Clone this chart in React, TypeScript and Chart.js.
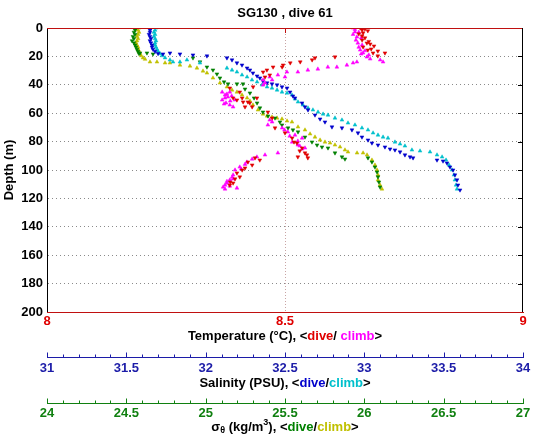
import React, { useEffect, useRef } from 'react';
import { Chart, registerables } from 'chart.js';

Chart.register(...registerables);

// ---------------- data ----------------
const CHART_TITLE = 'SG130 , dive 61';
const DEPTH_MIN = 0;
const DEPTH_MAX = 200;
const DEPTH_STEP = 20;
const TEMP_MIN = 8;
const TEMP_MAX = 9;
const TEMP_STEP = 0.5;
const SAL_MIN = 31;
const SAL_MAX = 34;
const SIG_MIN = 24;
const SIG_MAX = 27;
const MINOR_STEP = 0.1;

// [depth (m), temperature (°C)]
const tempDive: [number, number][] = [
  [0, 8.658], [0.7, 8.668], [1.4, 8.662], [2, 8.674], [3.5, 8.664], [4.2, 8.655], [5.6, 8.662], [7, 8.668],
  [8.5, 8.662], [9.5, 8.676], [10.6, 8.672], [11.3, 8.679], [12.7, 8.687], [13.4, 8.664], [14.8, 8.681],
  [15.5, 8.674], [16.2, 8.695], [17.6, 8.685], [17.6, 8.71], [19.7, 8.695], [20.4, 8.605], [21.1, 8.563],
  [22.5, 8.557], [23.9, 8.532], [24.6, 8.511], [26.1, 8.496], [27.5, 8.494], [27.5, 8.475], [29.6, 8.462],
  [31.0, 8.454], [33.1, 8.468], [34.5, 8.458], [41.5, 8.433], [42.3, 8.384], [45.1, 8.405], [49.3, 8.441],
  [49.3, 8.391], [50.7, 8.399], [49.3, 8.41], [52.1, 8.412], [52.1, 8.422], [52.8, 8.426], [55.6, 8.416],
  [55.6, 8.431], [59.2, 8.464], [63.4, 8.473], [70.4, 8.479], [73.9, 8.5], [77.5, 8.515], [80.3, 8.519],
  [81.0, 8.525], [84.5, 8.536], [86.6, 8.531], [88.0, 8.542], [89.4, 8.546], [91.5, 8.548], [90.8, 8.527],
  [93.0, 8.447], [91.5, 8.437], [94.4, 8.422], [96.5, 8.431], [98.6, 8.416], [100.0, 8.41], [102.1, 8.399],
  [104.9, 8.405], [106.3, 8.395], [108.5, 8.385], [109.2, 8.391], [110.6, 8.384],
];
const tempClimb: [number, number][] = [
  [0, 8.643], [1, 8.647], [2.8, 8.647], [3, 8.655], [4.5, 8.643], [6.3, 8.651], [7, 8.66], [8.5, 8.649],
  [10.6, 8.653], [12, 8.662], [13.5, 8.655], [15.5, 8.658], [16, 8.668], [17.6, 8.664], [18.3, 8.66],
  [19, 8.676], [20.4, 8.672], [21.8, 8.679], [22.5, 8.7], [23.9, 8.706], [23.9, 8.651], [24.6, 8.643],
  [26.1, 8.63], [27.5, 8.609], [27.5, 8.59], [28.9, 8.569], [29.6, 8.548], [31.0, 8.527], [31.0, 8.504],
  [34.5, 8.5], [33.1, 8.485], [34.5, 8.468], [36.6, 8.473], [36.6, 8.454], [38.7, 8.458], [40.1, 8.454],
  [45.1, 8.384], [45.1, 8.368], [46.5, 8.378], [47.2, 8.374], [47.9, 8.388], [48.6, 8.38], [49.3, 8.374],
  [50.7, 8.368], [51.4, 8.385], [52.8, 8.376], [53.5, 8.372], [54.2, 8.384], [55.6, 8.391], [50.7, 8.395],
  [64.8, 8.468], [66.2, 8.473], [68.3, 8.464], [70.4, 8.494], [71.8, 8.499], [73.2, 8.506], [75.4, 8.521],
  [76.1, 8.51], [77.5, 8.536], [79.6, 8.527], [80.3, 8.515], [82.4, 8.527], [83.1, 8.531], [84.5, 8.542],
  [85.2, 8.536], [88.0, 8.485], [89.4, 8.458], [90.8, 8.441], [92.3, 8.431], [94.4, 8.42], [96, 8.416],
  [97.9, 8.405], [99.3, 8.408], [100.0, 8.395], [103.5, 8.391], [105, 8.389], [106.3, 8.391], [107.0, 8.384],
  [108, 8.378], [109.2, 8.378], [110.6, 8.374], [111.3, 8.384], [112.0, 8.37], [113.4, 8.374], [112.7, 8.399],
];

// [depth (m), salinity (PSU)]
const salDive: [number, number][] = [
  [0, 31.655], [1.5, 31.649], [3, 31.649], [4.5, 31.643], [6, 31.649], [7.5, 31.655], [9, 31.649],
  [10.5, 31.655], [12, 31.662], [13.5, 31.662], [15, 31.668], [16.5, 31.681], [18, 31.7],
  [18.3, 31.731], [17.6, 31.775], [18.3, 31.838], [19.0, 31.92], [19.7, 32.008], [21.1, 32.134],
  [22.5, 32.166], [24.6, 32.197], [26.1, 32.229], [28.2, 32.261], [29.6, 32.279], [31.7, 32.298],
  [33.8, 32.324], [35.2, 32.342], [37.3, 32.361], [38.7, 32.387], [39.4, 32.418], [40.1, 32.45],
  [41.5, 32.481], [42.3, 32.513], [45.1, 32.532], [47.9, 32.55], [49.3, 32.563], [52.8, 32.607],
  [55.6, 32.626], [57.7, 32.645], [61.3, 32.689], [64.1, 32.721], [66.2, 32.752], [69.7, 32.796],
  [70.4, 32.859], [71.8, 32.922], [73.9, 32.96], [76.8, 32.985], [78.9, 33.023], [81.0, 33.048],
  [82.4, 33.086], [83.8, 33.13], [85.2, 33.162], [85.9, 33.193], [87.3, 33.225], [89.4, 33.256],
  [90.8, 33.288], [91.5, 33.307], [93.0, 33.458], [93.7, 33.496], [95.1, 33.521], [97.9, 33.54],
  [100.0, 33.559], [103.5, 33.571], [107.0, 33.584], [110.6, 33.59], [114.1, 33.603],
];
const salClimb: [number, number][] = [
  [0, 31.687], [1.5, 31.681], [3, 31.674], [4.5, 31.681], [6, 31.674], [7.5, 31.681], [9, 31.687],
  [10.5, 31.681], [12, 31.681], [13.5, 31.687], [15, 31.693], [16.5, 31.7], [18, 31.712], [19.5, 31.725],
  [21, 31.744], [22.5, 31.775], [23.9, 31.794], [23.9, 31.838], [22.5, 31.882],
  [24.6, 31.964], [28.2, 32.134], [29.6, 32.166], [31.0, 32.197], [33.1, 32.229], [34.5, 32.261],
  [36.6, 32.292], [38.0, 32.324], [40.1, 32.355], [41.5, 32.387], [42.3, 32.418], [43.7, 32.45],
  [45.1, 32.481], [45.8, 32.513], [47.2, 32.544], [50.0, 32.563], [52.1, 32.582], [54.2, 32.613],
  [56.3, 32.645], [57.7, 32.676], [59.2, 32.708], [60.6, 32.74], [61.3, 32.771], [63.4, 32.815],
  [64.8, 32.859], [66.9, 32.897], [68.3, 32.941], [70.4, 32.985], [71.8, 33.023], [73.9, 33.055],
  [75.4, 33.086], [76.8, 33.118], [77.5, 33.149], [80.3, 33.193], [81.7, 33.225], [83.1, 33.256],
  [85.9, 33.3], [86.6, 33.351], [87.3, 33.414], [89.4, 33.458], [90.8, 33.49], [93.0, 33.515],
  [96.5, 33.534], [100.0, 33.553], [103.5, 33.565], [107.0, 33.571], [110.6, 33.578], [113.4, 33.584],
];

// [depth (m), sigma-theta (kg/m3)]
const sigDive: [number, number][] = [
  [0, 24.561], [1.5, 24.555], [3, 24.548], [4.5, 24.555], [6, 24.542], [7.5, 24.548], [9, 24.536],
  [10.5, 24.548], [12, 24.555], [13.5, 24.561], [15, 24.567], [16.5, 24.574], [18, 24.58],
  [17.6, 24.586], [17.6, 24.63], [18.3, 24.668], [21.1, 24.92], [23.9, 24.964], [27.5, 25.008],
  [29.6, 25.046], [32.4, 25.071], [35.2, 25.09], [38.0, 25.116], [39.4, 25.141], [39.4, 25.197],
  [39.4, 25.235], [43.0, 25.248], [45.8, 25.279], [49.3, 25.305], [52.8, 25.324], [56.3, 25.342],
  [59.2, 25.361], [62.0, 25.393], [63.4, 25.437], [66.2, 25.468], [68.3, 25.481], [70.4, 25.519],
  [71.8, 25.55], [73.2, 25.582], [76.8, 25.626], [80.3, 25.67], [82.4, 25.702], [83.8, 25.733],
  [84.5, 25.771], [88.0, 25.815], [90.8, 25.859], [92.3, 25.878], [91.5, 26.023], [94.4, 26.048],
  [97.9, 26.067], [101.4, 26.08], [104.9, 26.086], [108.5, 26.092], [112.0, 26.099],
];
const sigClimb: [number, number][] = [
  [0, 24.58], [1.5, 24.574], [3, 24.58], [4.5, 24.574], [6, 24.567], [7.5, 24.574], [9, 24.567],
  [10.5, 24.561], [12, 24.567], [13.5, 24.574], [15, 24.574], [16.5, 24.58], [18, 24.586], [19.5, 24.593],
  [21, 24.605], [22, 24.618], [23.9, 24.649], [23.9, 24.693], [24.6, 24.744],
  [24.6, 24.775], [26.1, 24.838], [26.8, 24.901], [28.2, 24.945], [30.3, 24.983], [31.7, 25.008],
  [35.2, 25.046], [38.7, 25.09], [41.5, 25.134], [43.7, 25.166], [45.1, 25.197], [47.2, 25.229],
  [49.3, 25.261], [51.4, 25.279], [54.2, 25.298], [57.7, 25.33], [60.6, 25.361], [62.0, 25.387],
  [62.7, 25.418], [63.4, 25.45], [64.1, 25.481], [65.5, 25.513], [66.2, 25.544], [69.7, 25.582],
  [71.8, 25.626], [74.6, 25.658], [76.8, 25.689], [78.9, 25.721], [80.3, 25.752], [81.0, 25.784],
  [82.4, 25.815], [83.8, 25.847], [85.9, 25.878], [87.3, 25.897], [88.0, 25.954], [88.0, 25.992],
  [89.4, 26.017], [93.0, 26.048], [96.5, 26.067], [100.0, 26.08], [103.5, 26.086], [107.0, 26.086],
  [110.6, 26.099], [113.4, 26.111],
];

// ---------------- styles ----------------
const FONT = '"Liberation Sans", Arial, Helvetica, sans-serif';
const C_RED = '#e00000';
const C_MAG = '#ff00ff';
const C_BLUE = '#0000cc';
const C_CYAN = '#00c0cc';
const C_GREEN = '#008000';
const C_OLIVE = '#c0c000';
const C_SAL_AXIS = '#1c1ca8';
const C_SIG_AXIS = '#108010';
const C_TEMP_AXIS = '#c01010';
const C_GRID = '#8a8a8a';

type Seg = { text: string; color?: string; size?: number; dy?: number };

function drawSegments(ctx: CanvasRenderingContext2D, segs: Seg[], cx: number, cy: number) {
  const base = 13;
  let total = 0;
  for (const s of segs) {
    ctx.font = `bold ${s.size ?? base}px ${FONT}`;
    total += ctx.measureText(s.text).width;
  }
  let x = cx - total / 2;
  ctx.textBaseline = 'middle';
  ctx.textAlign = 'left';
  for (const s of segs) {
    ctx.font = `bold ${s.size ?? base}px ${FONT}`;
    ctx.fillStyle = s.color ?? '#000';
    ctx.fillText(s.text, x, cy + (s.dy ?? 0));
    x += ctx.measureText(s.text).width;
  }
}

const isMajor = (v: number) => Math.abs(v * 2 - Math.round(v * 2)) < 1e-6;

const decorPlugin = {
  id: 'decor',
  afterDraw(chart: any) {
    const { ctx, chartArea: a, scales } = chart;
    ctx.save();
    ctx.lineWidth = 1;
    ctx.strokeStyle = C_TEMP_AXIS;
    ctx.beginPath();
    ctx.moveTo(a.left, Math.round(a.top) + 0.5);
    ctx.lineTo(a.right, Math.round(a.top) + 0.5);
    ctx.stroke();
    ctx.strokeStyle = '#000';
    ctx.beginPath();
    ctx.moveTo(Math.round(a.right) - 0.5, a.top);
    ctx.lineTo(Math.round(a.right) - 0.5, a.bottom);
    ctx.stroke();
    const y = scales.y;
    for (const t of y.ticks) {
      if (t.value <= DEPTH_MIN || t.value >= DEPTH_MAX) continue;
      const py = Math.round(y.getPixelForValue(t.value)) + 0.5;
      ctx.beginPath();
      ctx.moveTo(a.right - 5, py);
      ctx.lineTo(a.right, py);
      ctx.stroke();
    }
    const xt = scales.x;
    for (const t of xt.ticks) {
      if (t.value <= TEMP_MIN || t.value >= TEMP_MAX) continue;
      const px = Math.round(xt.getPixelForValue(t.value)) + 0.5;
      ctx.strokeStyle = C_TEMP_AXIS;
      ctx.beginPath();
      ctx.moveTo(px, a.top);
      ctx.lineTo(px, a.top + 5);
      ctx.stroke();
    }
    for (const [id, col] of [['xs', C_SAL_AXIS], ['xg', C_SIG_AXIS]] as [string, string][]) {
      const sc = scales[id];
      ctx.strokeStyle = col;
      const top = Math.round(sc.top) + 0.5;
      for (const t of sc.ticks) {
        const px = Math.round(sc.getPixelForValue(t.value)) + 0.5;
        const len = isMajor(t.value) ? 5 : 3;
        ctx.beginPath();
        ctx.moveTo(px, top);
        ctx.lineTo(px, top - len);
        ctx.stroke();
      }
    }
    const cx = (a.left + a.right) / 2;
    drawSegments(ctx, [{ text: CHART_TITLE }], cx, 13);
    drawSegments(
      ctx,
      [
        { text: 'Temperature (°C), <' },
        { text: 'dive', color: C_RED },
        { text: '/ ' },
        { text: 'climb', color: C_MAG },
        { text: '>' },
      ],
      cx,
      scales.x.top + 24
    );
    drawSegments(
      ctx,
      [
        { text: 'Salinity (PSU), <' },
        { text: 'dive', color: C_BLUE },
        { text: '/' },
        { text: 'climb', color: C_CYAN },
        { text: '>' },
      ],
      cx,
      scales.xs.top + 26
    );
    drawSegments(
      ctx,
      [
        { text: 'σ' },
        { text: 'θ', size: 9, dy: 4 },
        { text: ' (kg/m' },
        { text: '3', size: 9, dy: -4 },
        { text: '), <' },
        { text: 'dive', color: C_GREEN },
        { text: '/' },
        { text: 'climb', color: C_OLIVE },
        { text: '>' },
      ],
      cx,
      scales.xg.top + 24
    );
    ctx.restore();
  },
};

const toPts = (arr: [number, number][]) => arr.map(([d, v]) => ({ x: v, y: d }));

function makeDataset(label: string, arr: [number, number][], axis: string, color: string, dive: boolean) {
  return {
    label,
    data: toPts(arr),
    xAxisID: axis,
    yAxisID: 'y',
    showLine: false,
    pointStyle: 'triangle',
    pointRotation: dive ? 180 : 0,
    pointRadius: 2.2,
    pointHoverRadius: 2.2,
    pointBorderWidth: 0.5,
    backgroundColor: color,
    borderColor: color,
  };
}

const labelFmt = (v: number) => (isMajor(v) ? String(Math.round(v * 2) / 2) : '');

export default function App() {
  const ref = useRef<HTMLCanvasElement>(null);
  useEffect(() => {
    if (!ref.current) return;
    const chart = new Chart(ref.current, {
      type: 'scatter',
      data: {
        datasets: [
          makeDataset('T dive', tempDive, 'x', C_RED, true),
          makeDataset('T climb', tempClimb, 'x', C_MAG, false),
          makeDataset('S dive', salDive, 'xs', C_BLUE, true),
          makeDataset('S climb', salClimb, 'xs', C_CYAN, false),
          makeDataset('sig dive', sigDive, 'xg', C_GREEN, true),
          makeDataset('sig climb', sigClimb, 'xg', C_OLIVE, false),
        ] as any,
      },
      options: {
        responsive: false,
        animation: false,
        devicePixelRatio: 1,
        layout: { padding: { top: 28, right: 12, bottom: 0, left: 0 } },
        plugins: { legend: { display: false }, tooltip: { enabled: false }, title: { display: false } },
        events: [],
        scales: {
          y: {
            type: 'linear',
            position: 'left',
            reverse: true,
            min: DEPTH_MIN,
            max: DEPTH_MAX,
            afterFit: (s: any) => {
              s.width = 47;
            },
            ticks: {
              stepSize: DEPTH_STEP,
              color: '#000',
              padding: 4,
              font: { family: FONT, size: 13, weight: 'bold' },
            },
            grid: {
              drawTicks: false,
              color: (c: any) =>
                c.tick && (c.tick.value === DEPTH_MIN || c.tick.value === DEPTH_MAX) ? 'rgba(0,0,0,0)' : C_GRID,
              lineWidth: 1,
            },
            border: { color: '#000', width: 1, dash: [1, 3] },
            title: {
              display: true,
              text: 'Depth (m)',
              color: '#000',
              font: { family: FONT, size: 13, weight: 'bold' },
              padding: { top: 2, bottom: 0 },
            },
          },
          x: {
            type: 'linear',
            position: 'bottom',
            weight: 0,
            min: TEMP_MIN,
            max: TEMP_MAX,
            afterFit: (s: any) => {
              s.height = 45;
            },
            ticks: {
              stepSize: TEMP_STEP,
              color: C_RED,
              padding: 2,
              autoSkip: false,
              maxRotation: 0,
              font: { family: FONT, size: 13, weight: 'bold' },
              callback: (v: any) => String(v),
            },
            grid: {
              drawTicks: false,
              color: (c: any) =>
                c.tick && c.tick.value > TEMP_MIN && c.tick.value < TEMP_MAX ? '#c8a4a4' : 'rgba(0,0,0,0)',
            },
            border: { color: C_TEMP_AXIS, width: 1, dash: [1, 2] },
          },
          xs: {
            type: 'linear',
            position: 'bottom',
            weight: 1,
            min: SAL_MIN,
            max: SAL_MAX,
            afterFit: (s: any) => {
              s.height = 46;
            },
            ticks: {
              stepSize: MINOR_STEP,
              maxTicksLimit: 100,
              color: C_SAL_AXIS,
              padding: 3.5,
              autoSkip: false,
              maxRotation: 0,
              font: { family: FONT, size: 13, weight: 'bold' },
              callback: (v: any) => labelFmt(Number(v)),
            },
            grid: { display: false, drawTicks: false, drawOnChartArea: false },
            border: { color: C_SAL_AXIS, width: 1 },
          },
          xg: {
            type: 'linear',
            position: 'bottom',
            weight: 2,
            min: SIG_MIN,
            max: SIG_MAX,
            afterFit: (s: any) => {
              s.height = 39;
            },
            ticks: {
              stepSize: MINOR_STEP,
              maxTicksLimit: 100,
              color: C_SIG_AXIS,
              padding: 3,
              autoSkip: false,
              maxRotation: 0,
              font: { family: FONT, size: 13, weight: 'bold' },
              callback: (v: any) => labelFmt(Number(v)),
            },
            grid: { display: false, drawTicks: false, drawOnChartArea: false },
            border: { color: C_SIG_AXIS, width: 1 },
          },
        },
      } as any,
      plugins: [decorPlugin],
    });
    return () => chart.destroy();
  }, []);
  return (
    <div style={{ position: 'fixed', left: 0, top: 0, width: 535, height: 442, background: '#fff' }}>
      <canvas ref={ref} width={535} height={442} style={{ width: 535, height: 442, display: 'block' }} />
    </div>
  );
}
